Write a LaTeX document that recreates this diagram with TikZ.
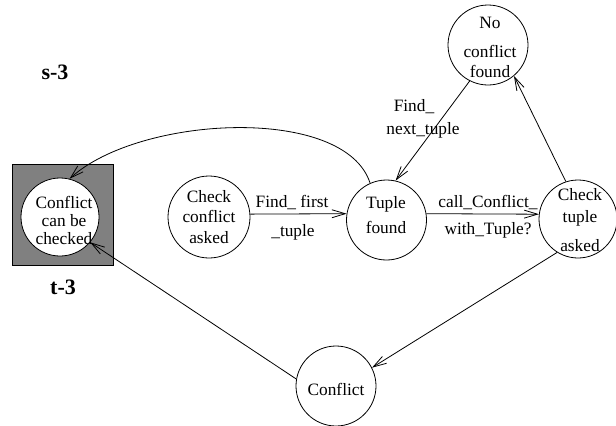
\documentclass[tikz,border=0pt]{standalone}
\usepackage{fontspec}
\setmainfont{Liberation Serif}
\usetikzlibrary{arrows.meta}
\definecolor{boxgray}{RGB}{128,128,128}
\begin{document}
\begin{tikzpicture}[x=0.75pt,y=-0.75pt,
  st/.style={draw,circle,line width=0.6pt,fill=white,minimum size=60pt,inner sep=0pt},
  txt/.style={inner sep=0pt,align=center,font=\fontsize{13}{15}\selectfont},
  lbl/.style={inner sep=0pt,font=\fontsize{13}{15}\selectfont},
  big/.style={inner sep=0pt,font=\fontsize{16.5}{18}\selectfont\bfseries},
  arr/.style={line width=0.6pt,-{Straight Barb[length=10pt,width=6pt]}}]
\useasboundingbox (0,0) rectangle (616,425);
% grey box
\node[draw,fill=boxgray,line width=0.6pt,minimum width=75.75pt,minimum height=75.75pt,inner sep=0pt] (box) at (62.5,214.5) {};
% states
\node[st,minimum size=58.5pt] (cc) at (60,217) {};
\node[st,minimum size=61.5pt] (cca) at (209,217) {};
\node[st] (tf) at (386.5,220) {};
\node[st] (nc) at (488,45) {};
\node[st,minimum size=58.5pt] (ct) at (578,219) {};
\node[st] (cf) at (336,386) {};
% state texts
\node[txt,font=\fontsize{13}{13.5}\selectfont] (cct) at (64,220) {Conflict\\can be\\checked};
\node[txt] (ccat) at (209,217) {Check\\[0.4pt]conflict\\[0.4pt]asked};
\node[txt] (tft) at (386,215.5) {Tuple\\[3.75pt]found};
\node[txt] (nct) at (490,47.5) {No\\[6.75pt]conflict\\found};
\node[txt] (ctt) at (580,220.5) {Check\\[1.5pt]tuple\\[6.75pt]asked};
\node[txt] (cft) at (336,389) {Conflict};
% side labels
\node[big] (s3) at (55,72) {s-3};
\node[big] (t3) at (63,287) {t-3};
% transitions
\draw[arr] (cca.4) -- (tf.171);
\draw[arr] (tf.9) -- (ct.173);
\draw[arr] (ct.108) -- (nc.-50);
\draw[arr] (nc.-117) -- (tf.77);
\draw[arr] (ct.238) -- (cf.27);
\draw[arr] (cf.170) -- (cc.-40);
\draw[arr] (tf.114) .. controls (345,105) and (140,115) .. (cc.76);
% transition labels
\node[lbl] (l1) at (292,203) {Find\_ first};
\node[lbl] (l2) at (293,232) {\_tuple};
\node[lbl] (l3) at (488,203) {call\_Conflict\_};
\node[lbl] (l4) at (488,230) {with\_Tuple?};
\node[lbl] (l5) at (414,107) {Find\_};
\node[lbl] (l6) at (423,130) {next\_tuple};
\end{tikzpicture}
\end{document}
